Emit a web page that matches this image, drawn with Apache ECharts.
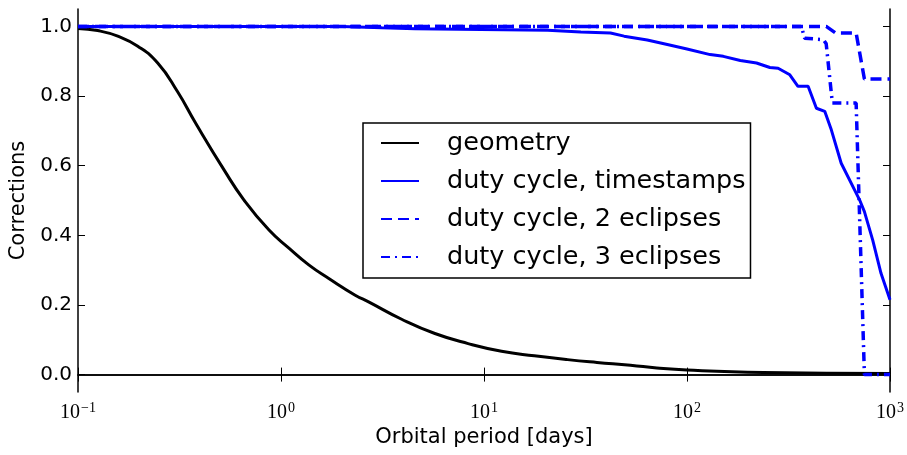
<!DOCTYPE html>
<html><head><meta charset="utf-8">
<script src="https://cdn.jsdelivr.net/npm/echarts@6/dist/echarts.min.js"></script>
<style>html,body{margin:0;padding:0;background:#fff}#c{width:907px;height:455px}</style>
</head><body><div id="c"></div>
<script>
const seriesNames = ['geometry', 'duty cycle, timestamps', 'duty cycle, 2 eclipses', 'duty cycle, 3 eclipses'];
const xTicks = [0.1, 1, 10, 100, 1000];
const yTicks = [0, 0.2, 0.4, 0.6, 0.8, 1.0];

const geometry = [[0.1,0.994],[0.125,0.988],[0.157,0.972],[0.197,0.943],[0.247,0.895],[0.309,0.813],[0.380,0.722],[0.524,0.588],[0.656,0.502],[0.873,0.415],[1.094,0.363],[1.37,0.315],[1.72,0.276],[2.32,0.228],[2.70,0.209],[3.93,0.159],[5.73,0.118],[8.35,0.089],[12.2,0.067],[17.7,0.054],[25.8,0.043],[36,0.035],[52.7,0.027],[71,0.019],[100,0.013],[238,0.006],[1000,0.003]];
const timestamps = [[0.1,1.0],[2.0,1.0],[3.14,0.996],[4.57,0.993],[9.66,0.991],[20.6,0.989],[30,0.984],[42,0.981],[49,0.972],[63.7,0.961],[80,0.948],[100,0.935],[130,0.919],[151,0.914],[183,0.902],[220,0.895],[256,0.882],[281,0.880],[321,0.861],[352,0.828],[395,0.828],[434,0.765],[477,0.756],[514,0.703],[575,0.607],[708,0.502],[748,0.468],[822,0.386],[903,0.291],[1000,0.215]];
const twoEclipses = [[0.1,1.0],[485,1.0],[540,0.981],[681,0.981],[748,0.849],[1000,0.849]];
const threeEclipses = [[0.1,1.0],[366,1.0],[380,0.966],[470,0.962],[485,0.95],[520,0.78],[681,0.78],[748,0.0],[1000,0.0]];

const chart = echarts.init(document.getElementById('c'), null, {renderer: 'canvas'});
const font = 'DejaVu Sans';
function sup(v) {
  const e = Math.round(Math.log10(v));
  return '{b|10}{s|' + (e < 0 ? '\u2212' + (-e) : e) + '}';
}
const axisLineStyle = {color: '#000', width: 1.5};
const tickStyle = {color: '#000', width: 1};

chart.setOption({
  animation: false,
  backgroundColor: '#fff',
  grid: {left: 78, right: 14, top: 9, bottom: 63, containLabel: false},
  legend: {
    data: seriesNames,
    orient: 'vertical',
    left: 363, top: 123,
    padding: [7, 5, 8, 17],
    itemWidth: 38, itemHeight: 14, itemGap: 12,
    borderColor: '#000', borderWidth: 1.5, borderRadius: 0,
    backgroundColor: '#fff',
    itemStyle: {color: 'transparent', borderColor: 'transparent', borderWidth: 0, opacity: 0},
    textStyle: {fontSize: 25.5, fontFamily: font, color: '#000', lineHeight: 25, padding: [0, 0, 0, 23]}
  },
  xAxis: [{
    type: 'log', logBase: 10, min: 0.1, max: 1000, position: 'bottom',
    axisLine: {lineStyle: axisLineStyle},
    axisTick: {inside: true, length: 7, lineStyle: tickStyle, customValues: xTicks},
    minorTick: {show: false}, splitLine: {show: false}, minorSplitLine: {show: false},
    axisLabel: {
      customValues: xTicks, margin: 9, showMinLabel: true, showMaxLabel: true,
      formatter: sup,
      rich: {
        b: {fontFamily: 'Liberation Serif', fontSize: 20, color: '#000'},
        s: {fontFamily: 'Liberation Serif', fontSize: 14, color: '#000', verticalAlign: 'bottom', padding: [0, 0, 9, 1]}
      }
    },
    name: 'Orbital period [days]', nameLocation: 'middle', nameGap: 33,
    nameTextStyle: {fontSize: 21, fontFamily: font, color: '#000'}
  }, {
    type: 'log', logBase: 10, min: 0.1, max: 1000, position: 'top',
    axisLine: {lineStyle: axisLineStyle},
    axisTick: {inside: true, length: 7, lineStyle: tickStyle, customValues: xTicks},
    minorTick: {show: false}, splitLine: {show: false},
    axisLabel: {show: false}
  }],
  yAxis: [{
    type: 'value', min: -0.05, max: 1.05, position: 'left',
    axisLine: {show: true, lineStyle: axisLineStyle},
    axisTick: {show: true, inside: true, length: 7, lineStyle: tickStyle, customValues: yTicks},
    splitLine: {show: false},
    axisLabel: {customValues: yTicks, formatter: v => v.toFixed(1), fontSize: 20, fontFamily: font, color: '#000', margin: 6},
    name: 'Corrections', nameLocation: 'middle', nameGap: 49, nameRotate: 90,
    nameTextStyle: {fontSize: 21, fontFamily: font, color: '#000'}
  }, {
    type: 'value', min: -0.05, max: 1.05, position: 'right',
    axisLine: {show: true, lineStyle: axisLineStyle},
    axisTick: {show: true, inside: true, length: 7, lineStyle: tickStyle, customValues: yTicks},
    splitLine: {show: false},
    axisLabel: {show: false}
  }],
  series: [
    {name: seriesNames[0], type: 'line', data: geometry, smooth: 0.5, symbol: 'none', showSymbol: false,
     lineStyle: {color: '#000', width: 3}, itemStyle: {color: '#000'}, z: 2},
    {name: seriesNames[1], type: 'line', data: timestamps, symbol: 'none', showSymbol: false,
     lineStyle: {color: '#0000ff', width: 3}, itemStyle: {color: '#0000ff'}, z: 3},
    {name: seriesNames[2], type: 'line', data: twoEclipses, symbol: 'none', showSymbol: false,
     lineStyle: {color: '#0000ff', width: 3.5, type: [11, 6]}, itemStyle: {color: '#0000ff'}, z: 3},
    {name: seriesNames[3], type: 'line', data: threeEclipses, symbol: 'none', showSymbol: false,
     lineStyle: {color: '#0000ff', width: 3.5, type: [9, 5, 2, 5]}, itemStyle: {color: '#0000ff'}, z: 3}
  ]
});
</script>
</body></html>
